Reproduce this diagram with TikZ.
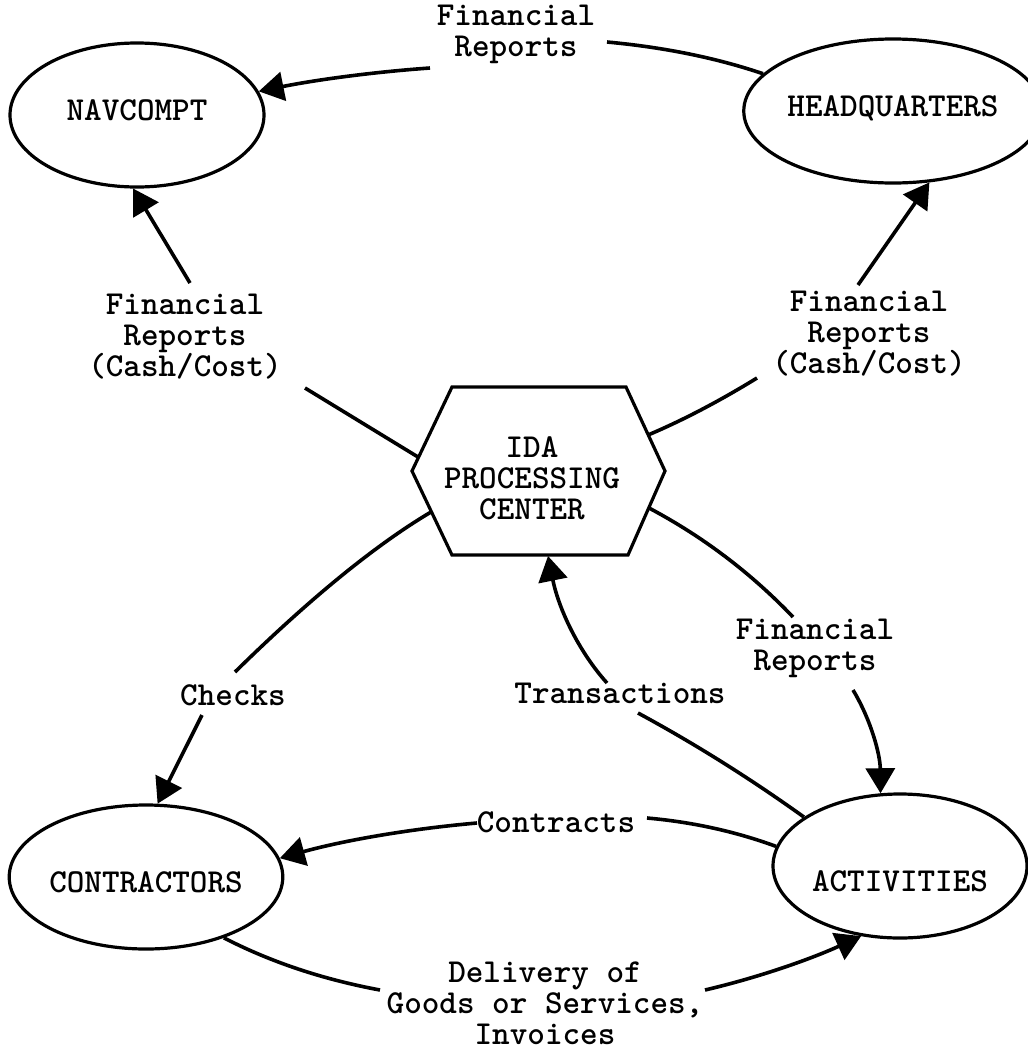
\documentclass[tikz,border=0pt]{standalone}
\usepackage{fontspec}
\usetikzlibrary{shapes.geometric,arrows.meta,calc}

\begin{document}
\begin{tikzpicture}[x=1pt,y=-1pt,
  txt/.style={font=\ttfamily\bfseries\fontsize{33.5}{31}\selectfont},
  org/.style={txt,ellipse,draw,line width=3.2pt,minimum width=254pt,
    minimum height=144pt,inner sep=0pt,text depth=0pt},
  lbl/.style={txt,align=center,inner sep=0pt},
  flow/.style={line width=3.6pt},
  arr/.style={flow,-{Triangle[length=25pt,width=29pt]}}
]
\useasboundingbox (0,0) rectangle (1028,1050);

% organisations
\node[org,text height=11pt] (nav) at (137,115) {NAVCOMPT};
\node[org,text height=11pt] (hq)  at (893,111) {HEADQUARTERS};
\node[org,text height=31pt] (con) at (146,877) {CONTRACTORS};
\node[org,text height=51pt] (act) at (900,866) {ACTIVITIES};

% processing centre (hexagon)
\draw[line width=3.2pt,line join=miter]
  (412,471) -- (452,387) -- (626,387) -- (665,471) -- (628,555) -- (452,555) -- cycle;
\node[lbl,align=center] (ida) at (532,478) {IDA\\PROCESSING\\CENTER};
\coordinate (hexUL) at (418,457);
\coordinate (hexLL) at (431,512);
\coordinate (hexUR) at (648,435);
\coordinate (hexLR) at (649,508);
\coordinate (hexB)  at (548,556);

% flow labels
\node[lbl] (ltop) at (516,34)  {Financial\\Reports};
\node[lbl] (lnav) at (185,337) {Financial\\Reports\\(Cash/Cost)};
\node[lbl] (lhq)  at (869,334) {Financial\\Reports\\(Cash/Cost)};
\node[lbl] (lchk) at (233,695) {Checks};
\node[lbl] (ltrn) at (620,693) {Transactions};
\node[lbl] (lact) at (815,648) {Financial\\Reports};
\node[lbl] (lctr) at (556,822) {Contracts};
\node[lbl] (ldel) at (545,1003) {Delivery of\\Goods or Services,\\Invoices};

% label ends of the connectors
\coordinate (topR)  at (607,42);
\coordinate (topL)  at (430,68);
\coordinate (navlo) at (305,388);
\coordinate (navhi) at (190,283);
\coordinate (hqlo)  at (757,378);
\coordinate (hqhi)  at (858,285);
\coordinate (chkhi) at (235,672);
\coordinate (chklo) at (202,715);
\coordinate (trnlo) at (638,713);
\coordinate (trnhi) at (607,683);
\coordinate (acthi) at (793,617);
\coordinate (actlo) at (853,690);
\coordinate (ctrR)  at (647,818);
\coordinate (ctrL)  at (477,823);
\coordinate (delL)  at (380,990);
\coordinate (delR)  at (705,990);

% bend points of the gently curved connectors
\coordinate (kTop)  at (693,50);
\coordinate (kNav)  at (345,74);
\coordinate (kHq)   at (700,413);
\coordinate (kChk)  at (347,562);
\coordinate (kTrA)  at (723,759);
\coordinate (kTrB)  at (564,635);
\coordinate (kFin)  at (730,551);
\coordinate (kAct)  at (880,735);
\coordinate (kCtA)  at (715,824);
\coordinate (kCtB)  at (374,832);
\coordinate (kDlA)  at (294,974);
\coordinate (kDlB)  at (782,972);

% HEADQUARTERS -> NAVCOMPT
\draw[flow] (hq.164) .. controls ($(hq.164)!.667!(kTop)$) and ($(topR)!.667!(kTop)$) .. (topR);
\draw[arr]  (topL) .. controls ($(topL)!.667!(kNav)$) and ($(nav.11)!.667!(kNav)$) .. (nav.11);

% IDA -> NAVCOMPT
\draw[flow] (hexUL) -- (navlo);
\draw[arr]  (navhi) -- (nav.267);

% IDA -> HEADQUARTERS
\draw[flow] (hexUR) .. controls ($(hexUR)!.667!(kHq)$) and ($(hqlo)!.667!(kHq)$) .. (hqlo);
\draw[arr]  (hqhi) -- (hq.297);

% IDA -> CONTRACTORS
\draw[flow] (hexLL) .. controls ($(hexLL)!.667!(kChk)$) and ($(chkhi)!.667!(kChk)$) .. (chkhi);
\draw[arr]  (chklo) -- (con.81);

% ACTIVITIES -> IDA
\draw[flow] (act.153) .. controls ($(act.153)!.667!(kTrA)$) and ($(trnlo)!.667!(kTrA)$) .. (trnlo);
\draw[arr]  (trnhi) .. controls ($(trnhi)!.667!(kTrB)$) and ($(hexB)!.667!(kTrB)$) .. (hexB);

% IDA -> ACTIVITIES
\draw[flow] (hexLR) .. controls ($(hexLR)!.667!(kFin)$) and ($(acthi)!.667!(kFin)$) .. (acthi);
\draw[arr]  (actlo) .. controls ($(actlo)!.667!(kAct)$) and ($(act.105)!.667!(kAct)$) .. (act.105);

% ACTIVITIES -> CONTRACTORS
\draw[flow] (act.171) .. controls ($(act.171)!.667!(kCtA)$) and ($(ctrR)!.667!(kCtA)$) .. (ctrR);
\draw[arr]  (ctrL) .. controls ($(ctrL)!.667!(kCtB)$) and ($(con.8)!.667!(kCtB)$) .. (con.8);

% CONTRACTORS -> ACTIVITIES
\draw[flow] (con.322) .. controls ($(con.322)!.667!(kDlA)$) and ($(delL)!.667!(kDlA)$) .. (delL);
\draw[arr]  (delR) .. controls ($(delR)!.667!(kDlB)$) and ($(act.241)!.667!(kDlB)$) .. (act.241);
\end{tikzpicture}
\end{document}
